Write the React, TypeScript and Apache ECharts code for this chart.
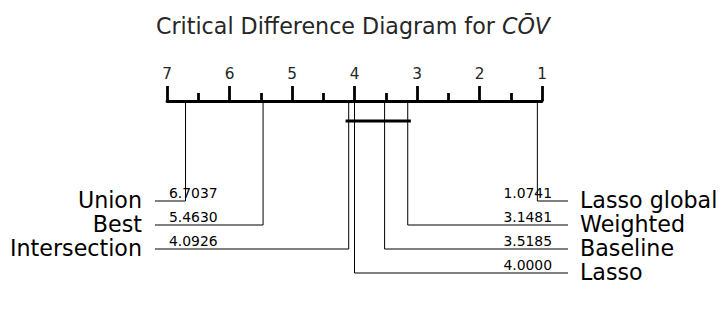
import React, { useEffect, useRef } from "react";
import * as echarts from "echarts";

const methods = ["Union", "Best", "Intersection", "Lasso global", "Weighted", "Baseline", "Lasso"];
const ranks = [6.7037, 5.463, 4.0926, 1.0741, 3.1481, 3.5185, 4.0];
// groups of methods not significantly different (rank ranges)
const cliques: [number, number][] = [[3.1481, 4.0926]];
const rankTicks = [1, 2, 3, 4, 5, 6, 7];

// layout constants
const ROW_PX = 24;
const AXIS_GAP_PX = 100;
const AXIS_Y = -AXIS_GAP_PX / ROW_PX;
const CD_Y = AXIS_Y + 20 / ROW_PX;
const CLIQUE_EXT = 0.05;
const LEFT_OUT_PX = 12;
const RIGHT_OUT_PX = 26;
const FONT = "DejaVu Sans, sans-serif";

export default function App() {
  const ref = useRef<HTMLDivElement>(null);
  useEffect(() => {
    if (!ref.current) return;
    const chart = echarts.init(ref.current, undefined, { renderer: "svg" });
    const items = methods.map((m, i) => ({ name: m, rank: ranks[i] }));
    items.sort((a, b) => b.rank - a.rank);
    const nLeft = Math.floor(items.length / 2);
    const left = items.slice(0, nLeft).map((it, row) => ({ ...it, row, side: 0 }));
    const right = items
      .slice(nLeft)
      .reverse()
      .map((it, row) => ({ ...it, row, side: 1 }));
    const placed = [...left, ...right];
    const minRank = rankTicks[0];
    const maxRank = rankTicks[rankTicks.length - 1];

    const series: any[] = [];
    series.push({
      type: "custom",
      clip: false,
      silent: true,
      data: placed.map((p) => ({ name: p.name, value: [p.rank, p.row, p.side] })),
      renderItem: (params: any, api: any) => {
        const p = placed[params.dataIndex];
        const rank = api.value(0);
        const row = api.value(1);
        const side = api.value(2);
        const top = api.coord([rank, AXIS_Y]);
        const corner = api.coord([rank, row]);
        const edge = api.coord([side === 0 ? maxRank : minRank, row]);
        const endX = side === 0 ? edge[0] - LEFT_OUT_PX : edge[0] + RIGHT_OUT_PX;
        const y = corner[1];
        return {
          type: "group",
          children: [
            {
              type: "polyline",
              shape: { points: [top, corner, [endX, y]] },
              style: { stroke: "#000", lineWidth: 1, fill: null },
            },
            {
              type: "text",
              x: side === 0 ? endX - 13 : endX + 12,
              y: y - 1,
              style: {
                text: p.name,
                align: side === 0 ? "right" : "left",
                verticalAlign: "middle",
                fontFamily: FONT,
                fontSize: 22.2,
                fill: "#000",
              },
            },
            {
              type: "text",
              x: side === 0 ? endX + 14 : endX - 16,
              y: y - 1,
              style: {
                text: rank.toFixed(4),
                align: side === 0 ? "left" : "right",
                verticalAlign: "bottom",
                fontFamily: FONT,
                fontSize: 13.9,
                fill: "#000",
              },
            },
          ],
        };
      },
    });
    cliques.forEach(([a, b]) => {
      series.push({
        type: "line",
        data: [[a - CLIQUE_EXT, CD_Y], [b + CLIQUE_EXT, CD_Y]],
        symbol: "none",
        lineStyle: { color: "#000", width: 3.2 },
        silent: true,
      });
    });

    chart.setOption({
      animation: false,
      backgroundColor: "#fff",
      title: {
        text: "{a|Critical Difference Diagram for }{b|CŌV}",
        left: 348,
        textAlign: "center",
        top: 10,
        textStyle: {
          fontWeight: "normal",
          rich: {
            a: { fontFamily: FONT, fontSize: 22.2, color: "#262626", fontWeight: "normal" },
            b: { fontFamily: FONT, fontSize: 22.2, color: "#262626", fontWeight: "normal", fontStyle: "italic" },
          },
        },
      },
      grid: { left: 167, width: 375, top: 101, height: (3 - AXIS_Y) * ROW_PX },
      xAxis: {
        type: "value",
        min: minRank,
        max: maxRank,
        interval: 1,
        inverse: true,
        position: "top",
        axisLine: { show: true, onZero: false, lineStyle: { color: "#000", width: 2.8 } },
        axisTick: { show: true, length: 15, lineStyle: { color: "#000", width: 2.8 } },
        minorTick: { show: true, splitNumber: 2, length: 8, lineStyle: { color: "#000", width: 2.8 } },
        splitLine: { show: false },
        minorSplitLine: { show: false },
        axisLabel: { fontFamily: FONT, fontSize: 15.3, color: "#262626", margin: 20 },
      },
      yAxis: {
        type: "value",
        inverse: true,
        min: AXIS_Y,
        max: 3,
        show: false,
      },
      series,
    });
    return () => chart.dispose();
  }, []);
  return (
    <div
      ref={ref}
      style={{ position: "fixed", left: 0, top: 0, width: 727, height: 311 }}
    />
  );
}
